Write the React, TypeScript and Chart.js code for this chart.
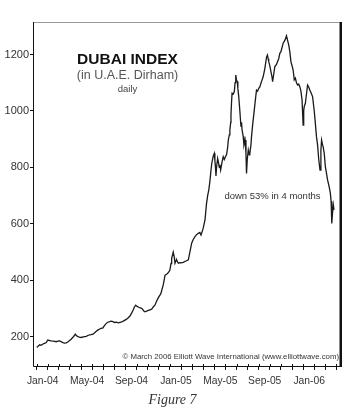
import React, { useEffect, useRef } from "react";
import { Chart, registerables } from "chart.js";
Chart.register(...registerables);

// x position of each observation, in months since 1 Jan 2004
const monthPos = [
  0.0, 0.1, 0.27, 0.4, 0.57, 0.75, 0.87, 1.0, 1.1, 1.3, 1.5, 1.77, 1.9, 2.07, 2.2, 2.37, 2.5, 2.67, 2.8, 2.97,
  3.1, 3.27, 3.4, 3.48, 3.6, 3.72, 3.85, 4.0, 4.2, 4.47, 4.6, 4.77, 4.9, 5.07, 5.2, 5.37, 5.5, 5.68, 5.8, 5.97,
  6.1, 6.27, 6.4, 6.58, 6.7, 6.87, 7.0, 7.17, 7.35, 7.6, 7.8, 8.07, 8.25, 8.4, 8.55, 8.7, 8.8, 8.92, 9.05, 9.2,
  9.35, 9.5, 9.65, 9.76, 9.9, 10.0, 10.2, 10.36, 10.5, 10.66, 10.8, 10.96, 11.1, 11.2, 11.3, 11.4, 11.5, 11.56, 11.7, 11.8,
  11.9, 12.0, 12.1, 12.16, 12.25, 12.3, 12.38, 12.46, 12.55, 12.6, 12.7, 12.76, 12.9, 13.0, 13.2, 13.4, 13.66, 13.8, 13.96, 14.1,
  14.26, 14.4, 14.56, 14.7, 14.8, 14.9, 15.0, 15.16, 15.3, 15.4, 15.5, 15.6, 15.7, 15.77, 15.9, 16.0, 16.05, 16.1, 16.15, 16.2,
  16.3, 16.36, 16.45, 16.5, 16.57, 16.7, 16.8, 16.9, 17.0, 17.1, 17.2, 17.26, 17.35, 17.4, 17.48, 17.5, 17.55, 17.6, 17.7, 17.8,
  17.87, 17.93, 18.0, 18.07, 18.12, 18.2, 18.3, 18.4, 18.45, 18.5, 18.6, 18.67, 18.77, 18.85, 18.9, 18.97, 19.06, 19.15, 19.2, 19.3,
  19.35, 19.45, 19.6, 19.7, 19.8, 19.9, 20.0, 20.1, 20.2, 20.3, 20.4, 20.55, 20.7, 20.78, 20.85, 20.9, 21.0, 21.1, 21.2, 21.25,
  21.35, 21.45, 21.6, 21.7, 21.8, 21.9, 22.0, 22.2, 22.35, 22.5, 22.6, 22.7, 22.8, 22.9, 23.0, 23.1, 23.2, 23.3, 23.4, 23.5,
  23.6, 23.7, 23.8, 23.9, 24.0, 24.05, 24.1, 24.2, 24.3, 24.4, 24.5, 24.6, 24.7, 24.85, 25.0, 25.1, 25.2, 25.3, 25.4, 25.52,
  25.6, 25.66, 25.75, 25.8, 25.9, 26.0, 26.1, 26.2, 26.35, 26.45, 26.52, 26.58, 26.65, 26.72, 26.78,
];

// Dubai index close (U.A.E. Dirham)
const indexValue = [
  163, 166, 172, 170, 175, 178, 180, 189, 188, 186, 185, 183, 185, 186, 183, 180, 178, 179, 182, 187,
  192, 199, 205, 210, 204, 201, 199, 198, 200, 202, 205, 207, 208, 210, 214, 220, 224, 228, 230, 232,
  240, 248, 252, 254, 256, 254, 251, 252, 250, 252, 256, 262, 268, 274, 284, 296, 306, 312, 308, 305,
  303, 300, 292, 289, 291, 293, 296, 298, 306, 313, 326, 339, 348, 355, 370, 384, 405, 419, 422, 425,
  430, 437, 460, 479, 492, 500, 485, 461, 470, 473, 465, 461, 463, 462, 464, 468, 473, 500, 532, 545,
  555, 562, 567, 570, 561, 572, 585, 614, 673, 700, 720, 750, 790, 814, 840, 850, 825, 803, 770, 800,
  832, 821, 800, 809, 791, 820, 838, 828, 838, 845, 870, 897, 915, 933, 960, 986, 1030, 1063, 1060, 1068,
  1100, 1127, 1110, 1104, 1080, 1051, 1000, 944, 960, 933, 910, 880, 897, 850, 779, 830, 862, 845, 850, 880,
  909, 950, 1004, 1040, 1074, 1070, 1080, 1085, 1098, 1110, 1121, 1150, 1190, 1198, 1185, 1175, 1160, 1139, 1120, 1104,
  1130, 1157, 1165, 1175, 1185, 1204, 1210, 1240, 1250, 1266, 1250, 1234, 1210, 1175, 1160, 1145, 1110, 1116, 1100, 1092,
  1095, 1086, 1070, 1040, 950, 1000, 1016, 1027, 1060, 1092, 1085, 1074, 1065, 1051, 1000, 956, 909, 880, 830, 791,
  860, 897, 880, 874, 850, 803, 780, 756, 730, 709, 680, 602, 640, 667, 650,
];

// monthly tick labels (one label every four months, empty otherwise)
const monthTickLabels = [
  "Jan-04", "", "", "", "May-04", "", "", "", "Sep-04", "", "", "",
  "Jan-05", "", "", "", "May-05", "", "", "", "Sep-05", "", "", "",
  "Jan-06", "", "", "",
];
const yTickValues = [200, 400, 600, 800, 1000, 1200];

const titleText = "DUBAI INDEX";
const subtitleText = "(in U.A.E. Dirham)";
const frequencyText = "daily";
const noteText = "down 53% in 4 months";
const copyrightText = "© March 2006 Elliott Wave International (www.elliottwave.com)";
const figureText = "Figure 7";

const SANS = '"Liberation Sans", Arial, Helvetica, sans-serif';

const decorPlugin = {
  id: "decor",
  beforeDraw(chart: any) {
    const { ctx, width, height } = chart;
    ctx.save();
    ctx.fillStyle = "#ffffff";
    ctx.fillRect(0, 0, width, height);
    ctx.restore();
  },
  afterDraw(chart: any) {
    const { ctx, chartArea: a, scales } = chart;
    ctx.save();
    // frame
    ctx.lineWidth = 1;
    ctx.strokeStyle = "#9a9a9a";
    ctx.beginPath();
    ctx.moveTo(a.left, a.top + 0.5);
    ctx.lineTo(a.right, a.top + 0.5);
    ctx.stroke();
    ctx.strokeStyle = "#111";
    ctx.beginPath();
    ctx.moveTo(a.left + 0.5, a.top);
    ctx.lineTo(a.left + 0.5, a.bottom + 0.5);
    ctx.lineTo(a.right, a.bottom + 0.5);
    ctx.stroke();
    ctx.lineWidth = 2.5;
    ctx.beginPath();
    ctx.moveTo(a.right - 1.25, a.top);
    ctx.lineTo(a.right - 1.25, a.bottom + 1);
    ctx.stroke();
    // inner part of the x tick marks
    ctx.lineWidth = 1;
    for (let k = 0; k < monthTickLabels.length; k++) {
      const x = Math.round(scales.x.getPixelForValue(k)) + 0.5;
      ctx.beginPath();
      ctx.moveTo(x, a.bottom - 2);
      ctx.lineTo(x, a.bottom);
      ctx.stroke();
    }
    // titles
    ctx.textAlign = "center";
    ctx.textBaseline = "alphabetic";
    ctx.fillStyle = "#111";
    ctx.font = `bold 15.5px ${SANS}`;
    ctx.fillText(titleText, 127.5, 64, 102);
    ctx.fillStyle = "#555";
    ctx.font = `12.5px ${SANS}`;
    ctx.fillText(subtitleText, 127.5, 78.5, 102);
    ctx.fillStyle = "#444";
    ctx.font = `9.5px ${SANS}`;
    ctx.fillText(frequencyText, 127.5, 92);
    // annotation
    ctx.fillStyle = "#333";
    ctx.font = `9.5px ${SANS}`;
    ctx.fillText(noteText, scales.x.getPixelForValue(21.24), scales.y.getPixelForValue(690), 108);
    // copyright
    ctx.textAlign = "right";
    ctx.fillStyle = "#333";
    ctx.font = `7.8px ${SANS}`;
    ctx.fillText(copyrightText, a.right - 3, scales.y.getPixelForValue(123), 234);
    // figure caption
    ctx.textAlign = "center";
    ctx.fillStyle = "#333";
    ctx.font = `italic 14px "Liberation Serif", "DejaVu Serif", serif`;
    ctx.fillText(figureText, 172.5, 404);
    ctx.restore();
  },
};

export default function App() {
  const canvasRef = useRef<HTMLCanvasElement | null>(null);

  useEffect(() => {
    document.body.style.margin = "0";
    const canvas = canvasRef.current;
    if (!canvas) return;
    const points = monthPos.map((m, i) => ({ x: m, y: indexValue[i] }));
    const chart = new Chart(canvas, {
      type: "line",
      data: {
        datasets: [
          {
            data: points,
            borderColor: "#1a1a1a",
            borderWidth: 1.3,
            pointRadius: 0,
            tension: 0,
            fill: false,
          },
        ],
      },
      options: {
        animation: false,
        responsive: false,
        devicePixelRatio: 1,
        parsing: false,
        layout: { padding: { top: 22, right: 21, bottom: 20, left: 0 } },
        plugins: {
          legend: { display: false },
          tooltip: { enabled: false },
          title: { display: false },
        },
        scales: {
          x: {
            type: "linear",
            min: -0.33,
            max: 27.5,
            afterBuildTicks: (scale: any) => {
              scale.ticks = monthTickLabels.map((_, i) => ({ value: i }));
            },
            afterFit: (scale: any) => {
              scale.height = 24;
            },
            border: { display: false },
            grid: {
              display: true,
              drawOnChartArea: false,
              drawTicks: true,
              tickLength: 4,
              color: "#111",
            },
            ticks: {
              autoSkip: false,
              maxRotation: 0,
              minRotation: 0,
              padding: 5,
              labelOffset: 6,
              color: "#333",
              font: { family: SANS, size: 10.3 },
              callback: (v: any) => monthTickLabels[Math.round(Number(v))] ?? "",
            },
          },
          y: {
            type: "linear",
            min: 97,
            max: 1315,
            afterBuildTicks: (scale: any) => {
              scale.ticks = yTickValues.map((v) => ({ value: v }));
            },
            afterFit: (scale: any) => {
              scale.width = 33;
            },
            border: { display: false },
            grid: {
              display: true,
              drawOnChartArea: false,
              drawTicks: true,
              tickLength: 3,
              color: "#111",
            },
            ticks: {
              padding: 1,
              color: "#333",
              font: { family: SANS, size: 11 },
              callback: (v: any) => String(v),
            },
          },
        },
      },
      plugins: [decorPlugin],
    });
    return () => chart.destroy();
  }, []);

  return (
    <div style={{ width: 363, height: 410 }}>
      <canvas ref={canvasRef} width={363} height={410} style={{ display: "block" }} />
    </div>
  );
}
